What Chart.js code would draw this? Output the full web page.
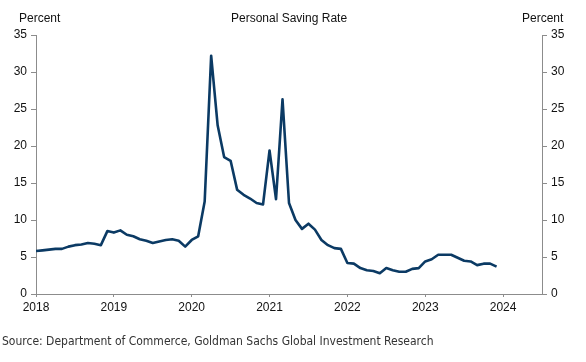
<!DOCTYPE html>
<html>
<head>
<meta charset="utf-8">
<script src="https://cdn.jsdelivr.net/npm/chart.js@4"></script>
<style>
    html, body { margin: 0; padding: 0; background: #ffffff; }
    #wrap { position: relative; width: 586px; height: 362px; overflow: hidden; }
    #chart { position: absolute; left: 0; top: 0; }
    .lbl { position: absolute; font-family: "Liberation Sans", Arial, sans-serif; font-size: 12px; color: #111; white-space: nowrap; line-height: 14px; }
    #source { position: absolute; left: 2px; top: 333px; font-family: "DejaVu Sans Condensed", "Liberation Sans Narrow", sans-serif; font-size: 12px; color: #333; white-space: nowrap; line-height: 16px; }
</style>
</head>
<body>
<div id="wrap">
    <canvas id="chart" width="586" height="362"></canvas>
    <div class="lbl" style="left:19px; top:11px;">Percent</div>
    <div class="lbl" style="left:231px; top:11px;">Personal Saving Rate</div>
    <div class="lbl" style="left:522px; top:11px;">Percent</div>
    <div id="source">Source: Department of Commerce, Goldman Sachs Global Investment Research</div>
</div>
<script>
// monthly personal saving rate, Jan 2018 - Dec 2023
const months = [
    '2018-01', '2018-02', '2018-03', '2018-04', '2018-05', '2018-06', '2018-07', '2018-08', '2018-09', '2018-10', '2018-11', '2018-12',
    '2019-01', '2019-02', '2019-03', '2019-04', '2019-05', '2019-06', '2019-07', '2019-08', '2019-09', '2019-10', '2019-11', '2019-12',
    '2020-01', '2020-02', '2020-03', '2020-04', '2020-05', '2020-06', '2020-07', '2020-08', '2020-09', '2020-10', '2020-11', '2020-12',
    '2021-01', '2021-02', '2021-03', '2021-04', '2021-05', '2021-06', '2021-07', '2021-08', '2021-09', '2021-10', '2021-11', '2021-12',
    '2022-01', '2022-02', '2022-03', '2022-04', '2022-05', '2022-06', '2022-07', '2022-08', '2022-09', '2022-10', '2022-11', '2022-12',
    '2023-01', '2023-02', '2023-03', '2023-04', '2023-05', '2023-06', '2023-07', '2023-08', '2023-09', '2023-10', '2023-11', '2023-12'
];
const savingRate = [
    5.8, 5.9, 6.0, 6.1, 6.1, 6.4, 6.6, 6.7, 6.9, 6.8, 6.6, 8.5,
    8.3, 8.6, 8.0, 7.8, 7.4, 7.2, 6.9, 7.1, 7.3, 7.4, 7.2, 6.4,
    7.3, 7.8, 12.5, 32.2, 22.8, 18.5, 18.0, 14.1, 13.4, 12.9, 12.3, 12.1,
    19.4, 12.8, 26.3, 12.3, 10.0, 8.8, 9.5, 8.7, 7.3, 6.6, 6.2, 6.1,
    4.2, 4.1, 3.5, 3.2, 3.1, 2.8, 3.5, 3.2, 3.0, 3.0, 3.4, 3.5,
    4.4, 4.7, 5.3, 5.3, 5.3, 4.9, 4.5, 4.4, 3.9, 4.1, 4.1, 3.7
];
const yearTicks = [2018, 2019, 2020, 2021, 2022, 2023, 2024];
const percentTicks = [0, 5, 10, 15, 20, 25, 30, 35];

const axisColor = '#8c8c8c';
const tickFont = { family: '"Liberation Sans", Arial, sans-serif', size: 12 };

function toYear(m) {
    const [y, mo] = m.split('-').map(Number);
    return y + (mo - 1) / 12;
}

const points = months.map((m, i) => ({ x: toYear(m), y: savingRate[i] }));

function fixedTicks(values) {
    return scale => {
        scale.ticks = values.map(v => ({ value: v }));
    };
}

const yScale = (position, width) => ({
    type: 'linear',
    position: position,
    min: 0,
    max: 35,
    afterBuildTicks: fixedTicks(percentTicks),
    afterFit: scale => { scale.width = width; },
    grid: { drawOnChartArea: false, drawTicks: true, tickLength: 5, color: axisColor },
    border: { display: true, color: axisColor },
    ticks: { color: '#111', font: tickFont, padding: 4 }
});

new Chart(document.getElementById('chart').getContext('2d'), {
    type: 'line',
    data: {
        datasets: [{
            label: 'Personal Saving Rate',
            data: points,
            borderColor: '#0b3a64',
            borderWidth: 2.6,
            pointRadius: 0,
            tension: 0,
            borderJoinStyle: 'round',
            yAxisID: 'y'
        }]
    },
    options: {
        responsive: false,
        animation: false,
        devicePixelRatio: 1,
        layout: { padding: { top: 35, bottom: 38, left: 0, right: 0 } },
        plugins: {
            legend: { display: false },
            tooltip: { enabled: false }
        },
        scales: {
            x: {
                type: 'linear',
                min: 2018,
                max: 2024.5,
                afterBuildTicks: fixedTicks(yearTicks),
                afterFit: scale => { scale.height = 30; },
                grid: { drawOnChartArea: false, drawTicks: true, tickLength: 3, color: axisColor },
                border: { display: true, color: axisColor },
                ticks: {
                    color: '#111',
                    font: tickFont,
                    padding: 3,
                    maxRotation: 0,
                    callback: v => String(v)
                }
            },
            y: yScale('left', 36),
            y2: yScale('right', 44)
        }
    }
});
</script>
</body>
</html>
